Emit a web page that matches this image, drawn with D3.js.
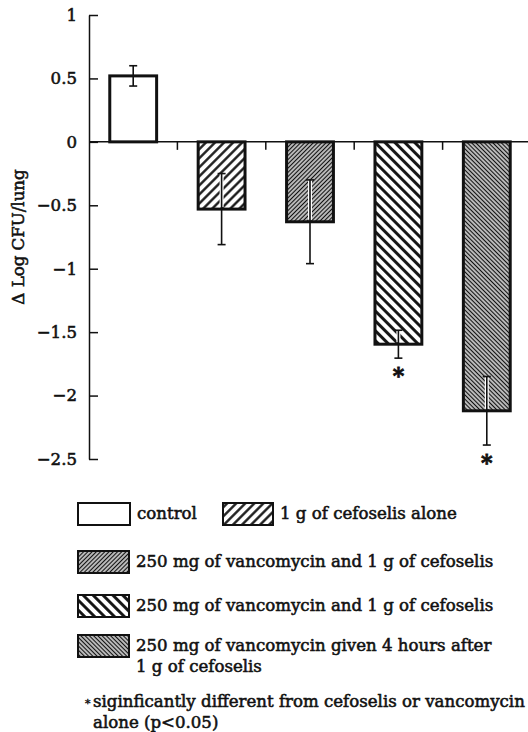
<!DOCTYPE html>
<html>
<head>
<meta charset="utf-8">
<script src="https://cdn.jsdelivr.net/npm/d3@7"></script>
<style>
	html, body { margin: 0; padding: 0; background: #fff; }
	svg { display: block; }
</style>
</head>
<body>
<div id="chart"></div>
<script>
// groups, in drawing order
const categories = [
	"control",
	"1 g of cefoselis alone",
	"250 mg of vancomycin and 1 g of cefoselis",
	"250 mg of vancomycin and 1 g of cefoselis",
	"250 mg of vancomycin given 4 hours after\n1 g of cefoselis",
];
const meanValues = [0.52, -0.53, -0.63, -1.595, -2.12];
const errorValues = [0.08, 0.28, 0.33, 0.11, 0.27];
const significant = [false, false, false, true, true];
const yTickValues = [1, 0.5, 0, -0.5, -1, -1.5, -2, -2.5];
const yLabel = "\u0394 Log CFU/lung";
const footnote = ["siginficantly different from cefoselis or vancomycin", "alone (p<0.05)"];

const width = 528;
const height = 732;
const fontFamily = "'DejaVu Serif', serif";
const fontSize = 16.6;
const ink = "#111";
const textStroke = 0.55; // the scanned print is heavier than the regular face

// fill for each group: none, then hatches of differing angle/spacing
const hatches = [
	null,
	{ angle: 45, gap: 6.4, line: 2.3 },
	{ angle: 45, gap: 3.0, line: 1.6 },
	{ angle: -45, gap: 7.0, line: 2.9 },
	{ angle: -45, gap: 3.0, line: 1.6 },
];

const svg = d3
	.select("#chart")
	.append("svg")
	.attr("width", width)
	.attr("height", height)
	.attr("font-family", fontFamily);

const defs = svg.append("defs");
hatches.forEach((h, i) => {
	if (!h) return;
	const p = defs
		.append("pattern")
		.attr("id", "hatch" + i)
		.attr("patternUnits", "userSpaceOnUse")
		.attr("width", h.gap)
		.attr("height", h.gap)
		.attr("patternTransform", `rotate(${h.angle})`);
	p.append("rect").attr("width", h.gap).attr("height", h.gap).attr("fill", "#fff");
	p.append("line")
		.attr("x1", h.gap / 2)
		.attr("x2", h.gap / 2)
		.attr("y1", 0)
		.attr("y2", h.gap)
		.attr("stroke", ink)
		.attr("stroke-width", h.line);
});
const fillOf = (i) => (hatches[i] ? `url(#hatch${i})` : "#fff");

const idx = d3.range(categories.length);

const x = d3
	.scaleBand()
	.domain(idx)
	.range([89, 531])
	.paddingInner(0.47)
	.paddingOuter(0.235);

// category slots (for the small separator ticks on the zero line)
const slot = d3.scaleBand().domain(idx).range([89, 531]);

const y = d3.scaleLinear().domain([-2.5, 1]).range([459, 15]);

const plot = svg.append("g").attr("class", "plot");

// y axis, ticks pointing inward
const yAxis = d3
	.axisLeft(y)
	.tickValues(yTickValues)
	.tickSizeInner(-9)
	.tickSizeOuter(0)
	.tickPadding(12)
	.tickFormat(d3.format(""));

const gy = plot.append("g").attr("transform", "translate(89,0)").call(yAxis);
gy.select(".domain").attr("stroke", ink).attr("stroke-width", 1.5);
gy.selectAll(".tick line").attr("stroke", ink).attr("stroke-width", 1.5);
gy.selectAll(".tick text")
	.attr("font-family", fontFamily)
	.attr("font-size", fontSize)
	.attr("fill", ink)
	.attr("stroke", ink)
	.attr("stroke-width", textStroke);

// zero line with downward separators between groups
plot.append("line")
	.attr("x1", 89)
	.attr("x2", 528)
	.attr("y1", y(0))
	.attr("y2", y(0))
	.attr("stroke", ink)
	.attr("stroke-width", 1.5);

plot.selectAll("line.sep")
	.data(idx.slice(1))
	.join("line")
	.attr("class", "sep")
	.attr("x1", (d) => slot(d))
	.attr("x2", (d) => slot(d))
	.attr("y1", y(0))
	.attr("y2", y(0) + 8)
	.attr("stroke", ink)
	.attr("stroke-width", 1.5);

// bars
plot.selectAll("rect.bar")
	.data(idx)
	.join("rect")
	.attr("class", "bar")
	.attr("x", (d) => x(d))
	.attr("width", x.bandwidth())
	.attr("y", (d) => y(Math.max(0, meanValues[d])))
	.attr("height", (d) => Math.abs(y(meanValues[d]) - y(0)))
	.attr("fill", (d) => fillOf(d))
	.attr("stroke", ink)
	.attr("stroke-width", 3);

// error bars
const cx = (d) => x(d) + x.bandwidth() / 2;
const err = plot.selectAll("g.err").data(idx).join("g").attr("class", "err");
err.filter((d) => hatches[d])
	.append("line")
	.attr("x1", cx)
	.attr("x2", cx)
	.attr("y1", (d) => y(meanValues[d] + errorValues[d]))
	.attr("y2", (d) => y(meanValues[d]) - 2)
	.attr("stroke", "#fff")
	.attr("stroke-width", 4);
err.append("line")
	.attr("x1", cx)
	.attr("x2", cx)
	.attr("y1", (d) => y(meanValues[d] + errorValues[d]))
	.attr("y2", (d) => y(meanValues[d] - errorValues[d]))
	.attr("stroke", ink)
	.attr("stroke-width", 1.6);
[1, -1].forEach((s) => {
	err.append("line")
		.attr("x1", (d) => cx(d) - 4)
		.attr("x2", (d) => cx(d) + 4)
		.attr("y1", (d) => y(meanValues[d] + s * errorValues[d]))
		.attr("y2", (d) => y(meanValues[d] + s * errorValues[d]))
		.attr("stroke", ink)
		.attr("stroke-width", 1.6);
});

// significance stars
plot.selectAll("text.star")
	.data(idx.filter((d) => significant[d]))
	.join("text")
	.attr("class", "star")
	.attr("x", cx)
	.attr("y", (d) => y(meanValues[d] - errorValues[d]) + 25)
	.attr("text-anchor", "middle")
	.attr("font-size", 22)
	.attr("font-weight", "bold")
	.attr("fill", ink)
	.attr("stroke", ink)
	.attr("stroke-width", 0.8)
	.text("*");

// y label
svg.append("text")
	.attr("transform", `translate(24,${y(-0.75)}) rotate(-90)`)
	.attr("text-anchor", "middle")
	.attr("font-size", fontSize)
	.attr("fill", ink)
	.attr("stroke", ink)
	.attr("stroke-width", textStroke)
	.text(yLabel);

// legend: control and cefoselis alone share the first row
const legendPos = [
	{ x: 78, y: 503, w: 52 },
	{ x: 223, y: 503, w: 50 },
	{ x: 78, y: 551, w: 51 },
	{ x: 78, y: 595, w: 51 },
	{ x: 78, y: 635, w: 51 },
];
const legend = svg.append("g").attr("class", "legend");
const item = legend
	.selectAll("g")
	.data(idx)
	.join("g")
	.attr("transform", (d) => `translate(${legendPos[d].x},${legendPos[d].y})`);
item.append("rect")
	.attr("width", (d) => legendPos[d].w)
	.attr("height", 22)
	.attr("fill", (d) => fillOf(d))
	.attr("stroke", ink)
	.attr("stroke-width", 2);
item.append("text")
	.attr("font-size", fontSize)
	.attr("fill", ink)
	.attr("stroke", ink)
	.attr("stroke-width", textStroke)
	.selectAll("tspan")
	.data((d) => categories[d].split("\n").map((t) => ({ t, d })))
	.join("tspan")
	.attr("x", (s) => legendPos[s.d].w + 7)
	.attr("y", (s, i) => 16 + i * 21)
	.text((s) => s.t);

// footnote, small raised asterisk then two lines
svg.append("text")
	.attr("x", 85)
	.attr("y", 707)
	.attr("font-size", 11)
	.attr("fill", ink)
	.attr("stroke", ink)
	.attr("stroke-width", 0.4)
	.text("*");
svg.append("text")
	.attr("font-size", fontSize)
	.attr("fill", ink)
	.attr("stroke", ink)
	.attr("stroke-width", textStroke)
	.selectAll("tspan")
	.data(footnote)
	.join("tspan")
	.attr("x", 93)
	.attr("y", (d, i) => 707 + i * 21)
	.text((d) => d);
</script>
</body>
</html>
